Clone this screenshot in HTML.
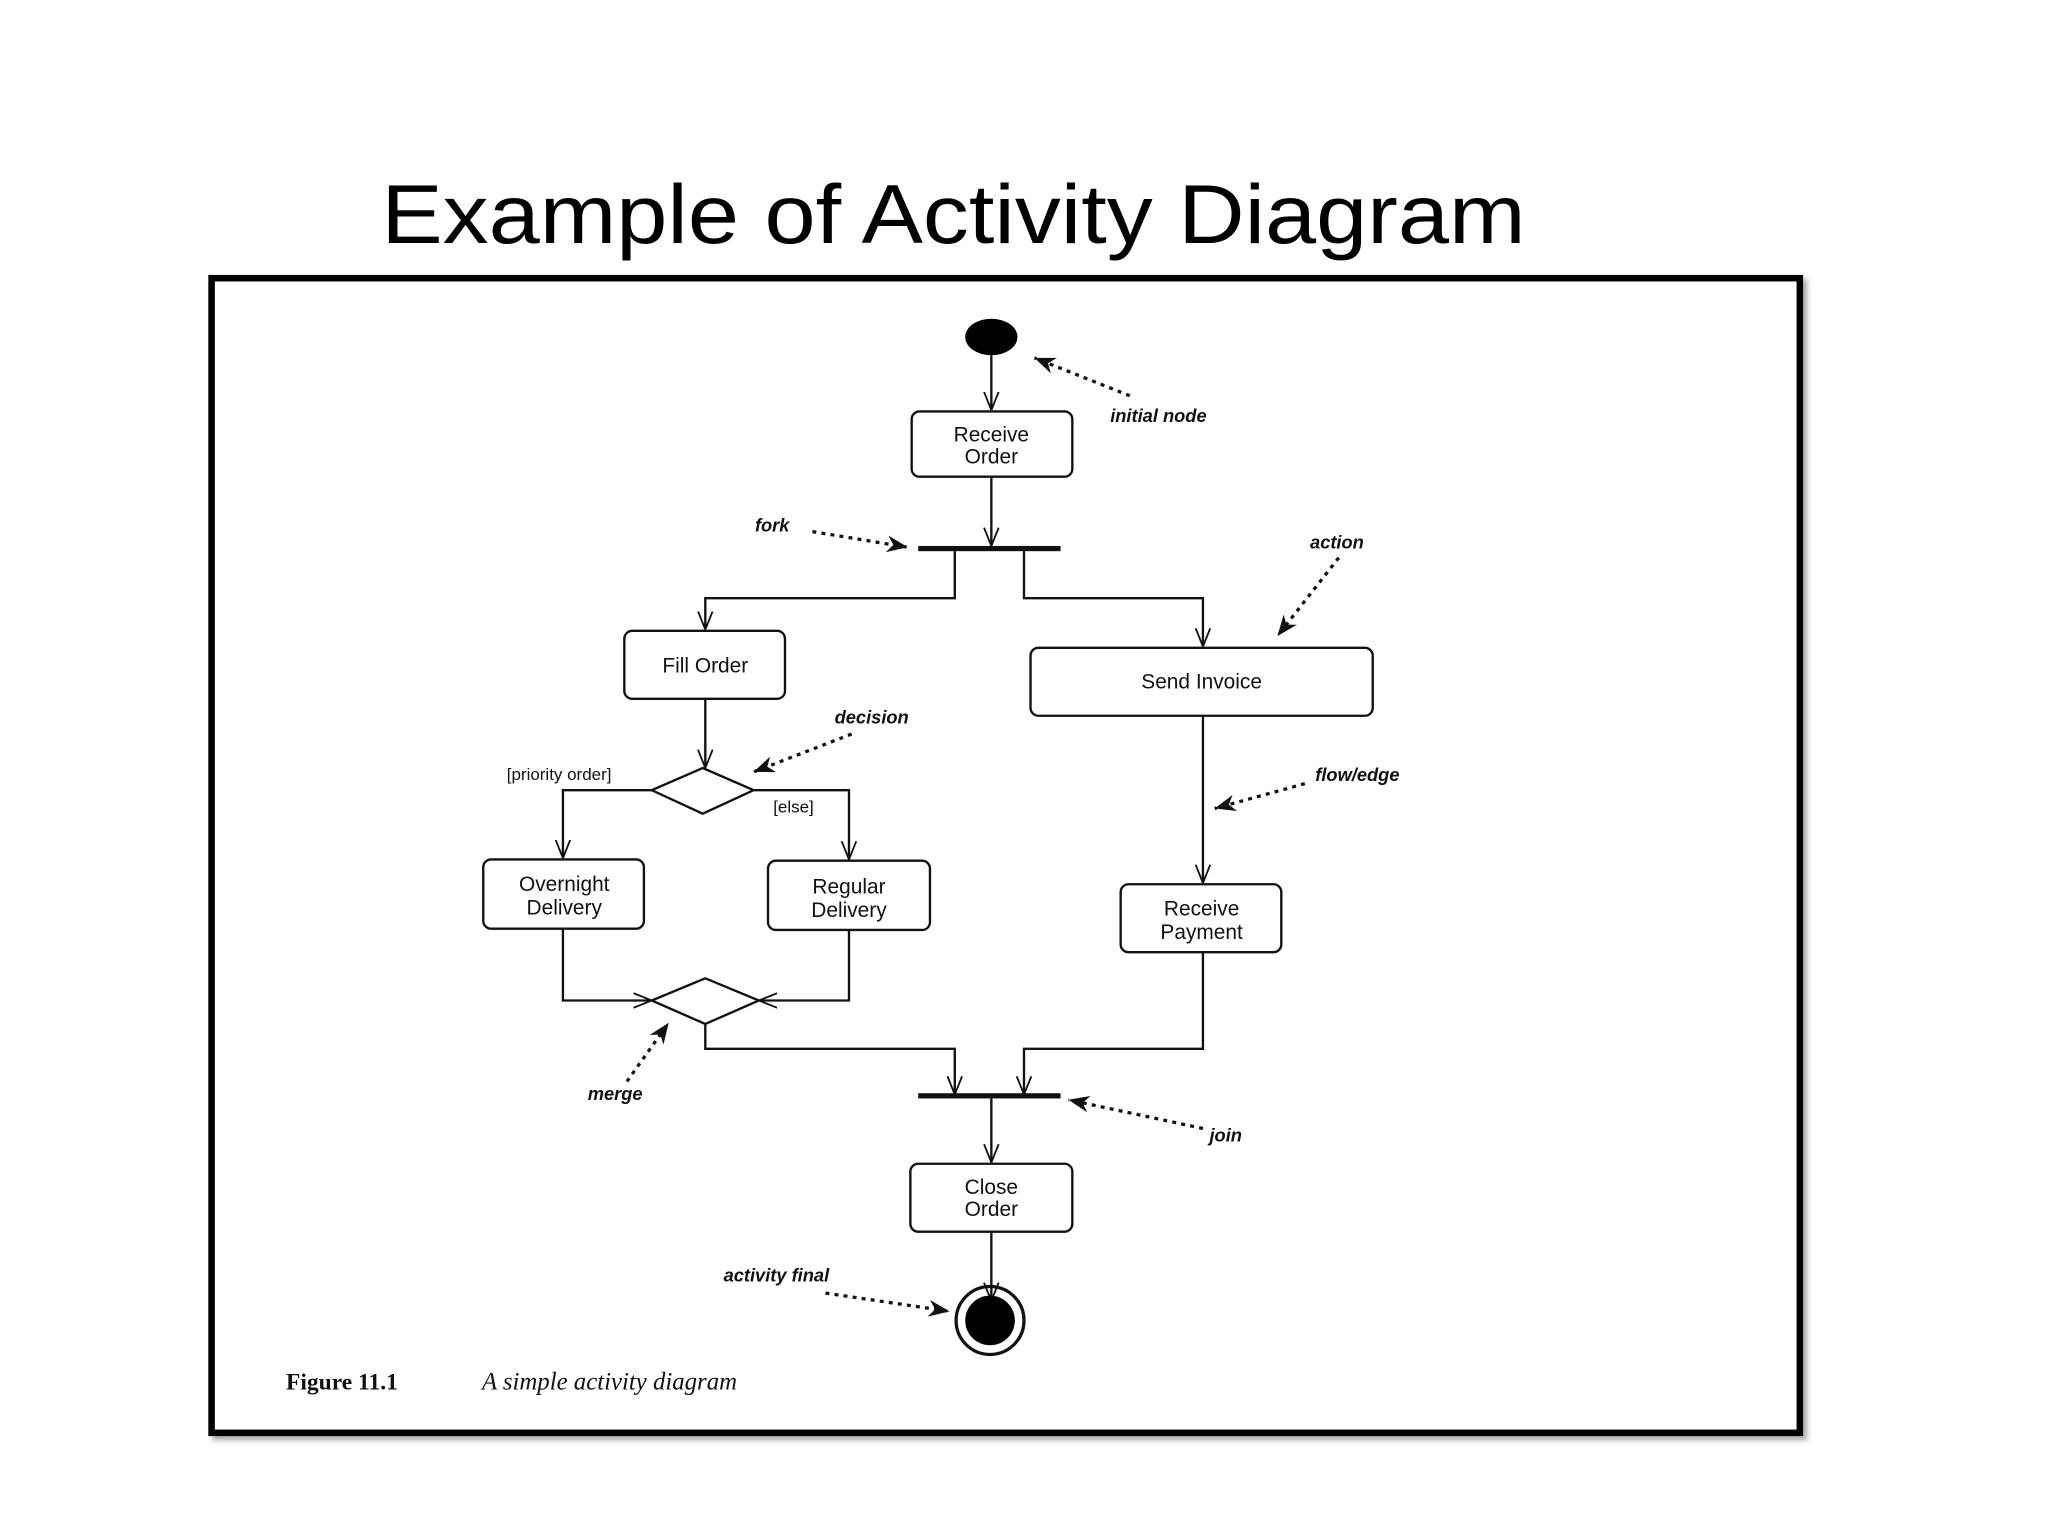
<!DOCTYPE html>
<html><head><meta charset="utf-8"><style>
html,body{margin:0;padding:0;background:#fff;}
svg{display:block;}
</style></head><body>
<svg width="2048" height="1536" viewBox="0 0 1568 1176" xmlns="http://www.w3.org/2000/svg">
<defs>
<marker id="o" viewBox="0 0 20 20" refX="20" refY="10" markerWidth="14" markerHeight="14" markerUnits="userSpaceOnUse" orient="auto">
<path d="M0,2 L20,10 L0,18" fill="none" stroke="#111" stroke-width="2"/>
</marker>
<marker id="f" viewBox="0 0 20 20" refX="20" refY="10" markerWidth="16" markerHeight="16" markerUnits="userSpaceOnUse" orient="auto">
<path d="M0,2 L20,10 L0,18 L6,10 Z" fill="#111"/>
</marker>
<filter id="sh"><feDropShadow dx="3" dy="3" stdDeviation="2" flood-color="#000" flood-opacity="0.35"/></filter>
</defs>
<rect width="1568" height="1176" fill="#fff"/>
<text x="730" y="186" font-family="Liberation Sans, sans-serif" font-size="64" text-anchor="middle" textLength="876" lengthAdjust="spacingAndGlyphs" fill="#000">Example of Activity Diagram</text>
<rect x="162" y="213" width="1216" height="884" fill="#fff" stroke="#000" stroke-width="5" filter="url(#sh)"/>
<g fill="none" stroke="#111" stroke-width="1.8">
<path d="M759,272 V314" marker-end="url(#o)"/>
<rect x="698" y="315" width="123" height="50" rx="6"/>
<path d="M759,365 V418" marker-end="url(#o)"/>
<path d="M731,422 V458 H540 V482" marker-end="url(#o)"/>
<path d="M784,422 V458 H921 V495" marker-end="url(#o)"/>
<rect x="478" y="483" width="123" height="52" rx="6"/>
<rect x="789" y="496" width="262" height="52" rx="6"/>
<path d="M540,535 V588" marker-end="url(#o)"/>
<path d="M538,588 L577,605 L538,623 L499,605 Z"/>
<path d="M499,605 H431 V657" marker-end="url(#o)"/>
<path d="M577,605 H650 V658" marker-end="url(#o)"/>
<rect x="370" y="658" width="123" height="53" rx="6"/>
<rect x="588" y="659" width="124" height="53" rx="6"/>
<path d="M540,749 L581,766 L540,784 L499,766 Z"/>
<path d="M431,711 V766 H499" marker-end="url(#o)"/>
<path d="M650,712 V766 H581" marker-end="url(#o)"/>
<path d="M540,784 V803 H731 V838" marker-end="url(#o)"/>
<path d="M921,548 V676" marker-end="url(#o)"/>
<rect x="858" y="677" width="123" height="52" rx="6"/>
<path d="M921,729 V803 H784 V838" marker-end="url(#o)"/>
<path d="M759,841 V890" marker-end="url(#o)"/>
<rect x="697" y="891" width="124" height="52" rx="6"/>
<path d="M759,943 V996" marker-end="url(#o)"/>
<circle cx="758" cy="1011" r="26" stroke-width="2.5"/>
</g>
<ellipse cx="759" cy="258" rx="20" ry="14" fill="#000"/>
<rect x="703" y="418" width="109" height="4" fill="#111"/>
<rect x="703" y="837" width="109" height="4" fill="#111"/>
<circle cx="758" cy="1011" r="19" fill="#000"/>
<g fill="none" stroke="#111" stroke-width="2.5" stroke-dasharray="3,4">
<path d="M865,303 L792,274" marker-end="url(#f)"/>
<path d="M622,407 L695,419" marker-end="url(#f)"/>
<path d="M1025,427 L978,487" marker-end="url(#f)"/>
<path d="M652,562 L577,591" marker-end="url(#f)"/>
<path d="M999,600 L930,619" marker-end="url(#f)"/>
<path d="M480,828 L512,783" marker-end="url(#f)"/>
<path d="M921,864 L818,842" marker-end="url(#f)"/>
<path d="M632,990 L727,1004" marker-end="url(#f)"/>
</g>
<g font-family="Liberation Sans, sans-serif" font-size="16" fill="#111" text-anchor="middle">
<text x="759" y="338">Receive</text><text x="759" y="355">Order</text>
<text x="540" y="515">Fill Order</text>
<text x="920" y="527">Send Invoice</text>
<text x="432" y="682">Overnight</text><text x="432" y="700">Delivery</text>
<text x="650" y="684">Regular</text><text x="650" y="702">Delivery</text>
<text x="920" y="701">Receive</text><text x="920" y="719">Payment</text>
<text x="759" y="914">Close</text><text x="759" y="931">Order</text>
</g>
<g font-family="Liberation Sans, sans-serif" font-size="14" font-weight="bold" font-style="italic" fill="#111">
<text x="850" y="323">initial node</text>
<text x="578" y="407">fork</text>
<text x="1003" y="420">action</text>
<text x="639" y="554">decision</text>
<text x="1007" y="598">flow/edge</text>
<text x="450" y="842">merge</text>
<text x="926" y="874">join</text>
<text x="554" y="981">activity final</text>
</g>
<g font-family="Liberation Sans, sans-serif" font-size="13" fill="#111">
<text x="388" y="597">[priority order]</text>
<text x="592" y="622">[else]</text>
</g>
<text x="219" y="1064" font-family="Liberation Serif, serif" font-size="18" font-weight="bold" fill="#111">Figure 11.1</text>
<text x="369" y="1064" font-family="Liberation Serif, serif" font-size="19" font-style="italic" fill="#111">A simple activity diagram</text>
</svg>
</body></html>
